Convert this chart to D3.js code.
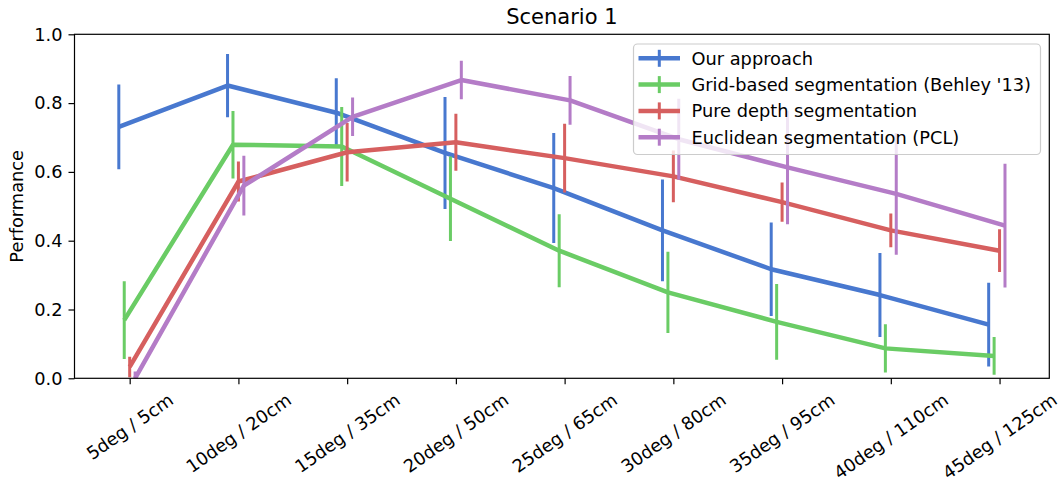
<!DOCTYPE html>
<html>
<head>
<meta charset="utf-8">
<script src="https://cdn.jsdelivr.net/npm/d3@7"></script>
<style>
  html, body { margin: 0; padding: 0; background: #fff; }
  svg { display: block; font-family: "DejaVu Sans", sans-serif; }
</style>
</head>
<body>
<svg id="chart" width="1060" height="482"></svg>
<script>
const categories = ["5deg / 5cm", "10deg / 20cm", "15deg / 35cm", "20deg / 50cm", "25deg / 65cm",
                    "30deg / 80cm", "35deg / 95cm", "40deg / 110cm", "45deg / 125cm"];
const seriesNames = ["Our approach", "Grid-based segmentation (Behley '13)",
                     "Pure depth segmentation", "Euclidean segmentation (PCL)"];
const ourValues      = [0.731, 0.851, 0.772, 0.655, 0.553, 0.430, 0.317, 0.242, 0.156];
const ourErrors      = [0.123, 0.092, 0.100, 0.163, 0.160, 0.148, 0.136, 0.122, 0.122];
const gridValues     = [0.169, 0.679, 0.674, 0.522, 0.371, 0.250, 0.164, 0.087, 0.065];
const gridErrors     = [0.113, 0.098, 0.115, 0.123, 0.106, 0.118, 0.110, 0.070, 0.055];
const depthValues    = [0.033, 0.572, 0.657, 0.686, 0.640, 0.587, 0.512, 0.430, 0.371];
const depthErrors    = [0.030, 0.058, 0.085, 0.083, 0.100, 0.075, 0.057, 0.049, 0.062];
const euclidValues   = [0.000, 0.560, 0.760, 0.867, 0.808, 0.695, 0.613, 0.536, 0.444];
const euclidErrors   = [0.020, 0.087, 0.056, 0.056, 0.071, 0.118, 0.165, 0.177, 0.180];
const xOffsets       = [-0.1, -0.05, 0, 0.05];
const colors         = ["#4878CF", "#6ACC65", "#D65F5F", "#B47CC7"];
const yTicks         = [0.0, 0.2, 0.4, 0.6, 0.8, 1.0];
const title = "Scenario 1";
const yLabel = "Performance";

const series = [
  {name: seriesNames[0], values: ourValues, errors: ourErrors, offset: xOffsets[0], color: colors[0]},
  {name: seriesNames[1], values: gridValues, errors: gridErrors, offset: xOffsets[1], color: colors[1]},
  {name: seriesNames[2], values: depthValues, errors: depthErrors, offset: xOffsets[2], color: colors[2]},
  {name: seriesNames[3], values: euclidValues, errors: euclidErrors, offset: xOffsets[3], color: colors[3]}
];

const svg = d3.select("#chart");
const L = 74.5, R = 1049.3, T = 34.3, B = 378.3;
const FS = 17.8;

const x = d3.scaleLinear().domain([-0.5075, 8.4575]).range([L, R]);
const y = d3.scaleLinear().domain([0, 1]).range([B, T]);

svg.append("defs").append("clipPath").attr("id", "clip")
  .append("rect").attr("x", L).attr("y", T).attr("width", R - L).attr("height", B - T);

const plot = svg.append("g").attr("clip-path", "url(#clip)");
const line = d3.line().x(d => x(d.x)).y(d => y(d.y));

series.forEach(s => {
  const pts = s.values.map((v, i) => ({x: i + s.offset, y: v, e: s.errors[i]}));
  plot.append("path").datum(pts)
    .attr("d", line).attr("fill", "none").attr("stroke", s.color)
    .attr("stroke-width", 4.5).attr("stroke-linejoin", "round");
  plot.selectAll(null).data(pts).enter().append("line")
    .attr("x1", d => x(d.x)).attr("x2", d => x(d.x))
    .attr("y1", d => y(d.y - d.e)).attr("y2", d => y(d.y + d.e))
    .attr("stroke", s.color).attr("stroke-width", 3);
});

// Axes
const xAxis = d3.axisBottom(x).tickValues(d3.range(categories.length))
  .tickFormat(() => "").tickSizeOuter(0).tickSizeInner(6);
const gx = svg.append("g").attr("transform", `translate(0,${B})`).call(xAxis);
gx.select(".domain").remove();
gx.selectAll(".tick line").attr("stroke", "#000").attr("stroke-width", 1.2);

const yAxis = d3.axisLeft(y).tickValues(yTicks).tickFormat(d3.format(".1f"))
  .tickSizeOuter(0).tickSizeInner(6).tickPadding(6);
const gy = svg.append("g").attr("transform", `translate(${L},0)`).call(yAxis);
gy.select(".domain").remove();
gy.selectAll(".tick line").attr("stroke", "#000").attr("stroke-width", 1.2);
gy.selectAll(".tick text").attr("font-size", FS).attr("fill", "#000")
  .attr("font-family", "DejaVu Sans");

// Frame
svg.append("rect").attr("x", L).attr("y", T).attr("width", R - L).attr("height", B - T)
  .attr("fill", "none").attr("stroke", "#000").attr("stroke-width", 1.2);

// Rotated x labels
const ang = 35 * Math.PI / 180;
categories.forEach((c, i) => {
  const t = svg.append("text").text(c).attr("font-size", FS).attr("fill", "#000")
    .attr("text-anchor", "middle").attr("dominant-baseline", "central");
  const w = t.node().getComputedTextLength();
  const h = FS * 1.0;
  const H = w * Math.sin(ang) + h * Math.cos(ang);
  const cx = x(i), cy = B + 6 + 6 + H / 2;
  t.attr("transform", `translate(${cx},${cy}) rotate(-35)`);
});

// Title
svg.append("text").attr("x", (L + R) / 2).attr("y", 24).attr("text-anchor", "middle")
  .attr("font-size", 21).attr("fill", "#000").text(title);

// Y label
svg.append("text").attr("transform", `translate(23,${(T + B) / 2}) rotate(-90)`)
  .attr("text-anchor", "middle").attr("font-size", FS).attr("fill", "#000").text(yLabel);

// Legend
const lg = svg.append("g");
lg.append("rect").attr("x", 633.5).attr("y", 44).attr("width", 407).attr("height", 110.5)
  .attr("rx", 4).attr("fill", "#fff").attr("fill-opacity", 0.8)
  .attr("stroke", "#cccccc").attr("stroke-width", 1.2);
series.forEach((s, i) => {
  const ry = 58.3 + i * 26.3;
  lg.append("line").attr("x1", 638.5).attr("x2", 680).attr("y1", ry).attr("y2", ry)
    .attr("stroke", s.color).attr("stroke-width", 4.5);
  lg.append("line").attr("x1", 659.3).attr("x2", 659.3).attr("y1", ry - 8.5).attr("y2", ry + 8.5)
    .attr("stroke", s.color).attr("stroke-width", 3);
  lg.append("text").attr("x", 691.5).attr("y", ry).attr("dominant-baseline", "central")
    .attr("font-size", FS).attr("fill", "#000").text(s.name);
});
</script>
</body>
</html>
